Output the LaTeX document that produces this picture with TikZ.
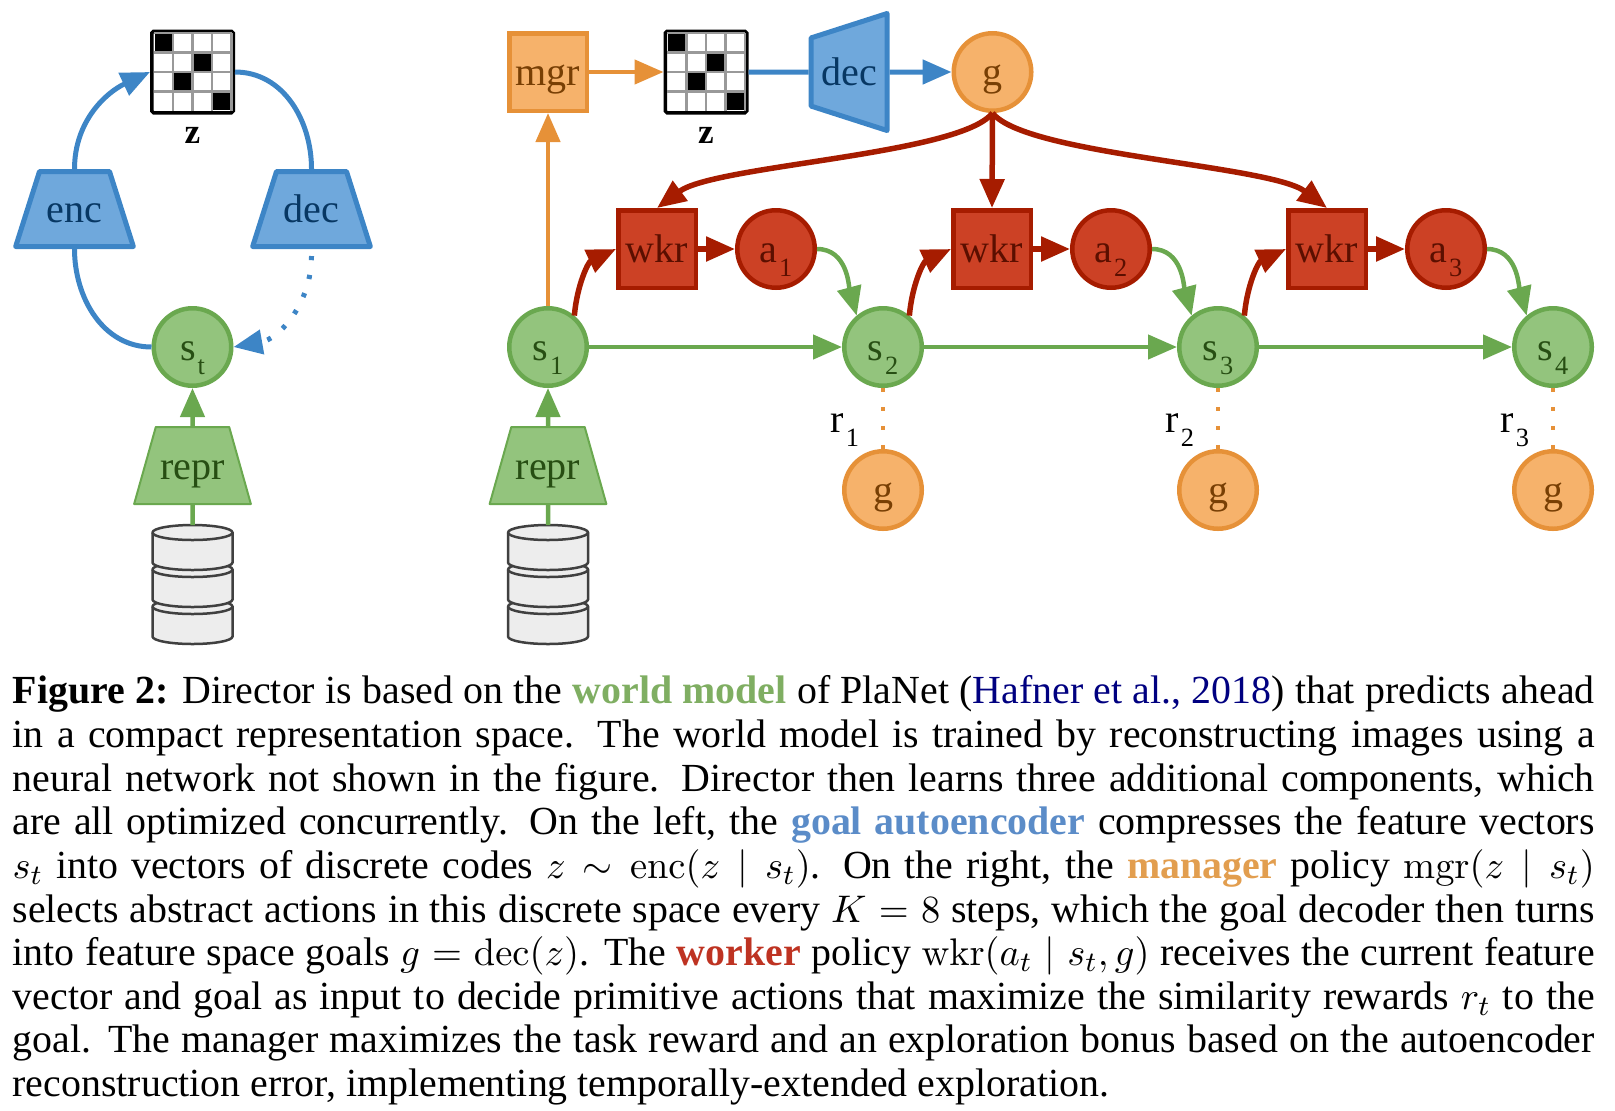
\documentclass[tikz,border=0pt]{standalone}
\usepackage[no-math]{fontspec}
\setmainfont{Liberation Serif}
\usepackage{amsmath}
\usetikzlibrary{arrows.meta,shapes.geometric}

\definecolor{bluefill}{HTML}{6FA8DC}
\definecolor{blueline}{HTML}{3D85C6}
\definecolor{bluetext}{HTML}{073763}
\definecolor{greenfill}{HTML}{93C47D}
\definecolor{greenline}{HTML}{6AA84F}
\definecolor{greentext}{HTML}{274E13}
\definecolor{orangefill}{HTML}{F6B26B}
\definecolor{orangeline}{HTML}{E69138}
\definecolor{orangetext}{HTML}{783F04}
\definecolor{redfill}{HTML}{CC4125}
\definecolor{redline}{HTML}{A61C00}
\definecolor{redtext}{HTML}{5B0F00}
\definecolor{capgreen}{HTML}{7FAE62}
\definecolor{capblue}{HTML}{5B8CC8}
\definecolor{caporange}{HTML}{E29E4F}
\definecolor{capred}{HTML}{BE3322}
\definecolor{citeblue}{HTML}{000080}

\newcommand{\sublbl}[2]{#1\kern0.5pt\smash{\raisebox{-4pt}{\fontsize{7.5}{8}\selectfont #2}}}

\begin{document}
\begin{tikzpicture}[
    every node/.style={inner sep=0pt, font=\fontsize{11.4}{13}\selectfont},
    lbl/.style={text height=1.7ex, text depth=0pt},
    state/.style={lbl, circle, draw=greenline, fill=greenfill, text=greentext, line width=0.045cm, minimum size=0.775cm},
    goal/.style={lbl, circle, draw=orangeline, fill=orangefill, text=orangetext, line width=0.045cm, minimum size=0.775cm},
    act/.style={lbl, circle, draw=redline, fill=redfill, text=redtext, line width=0.045cm, minimum size=0.775cm},
    wkr/.style={lbl, rectangle, draw=redline, fill=redfill, text=redtext, line width=0.045cm, minimum size=0.775cm},
    mgr/.style={lbl, rectangle, draw=orangeline, fill=orangefill, text=orangetext, line width=0.045cm, minimum size=0.775cm},
    trap/.style={lbl, trapezium, trapezium stretches=true, trapezium left angle=49, trapezium right angle=49,
        text width=0.7cm, align=center, line join=round, minimum width=1.17cm, minimum height=0.75cm},
    ae/.style={trap, draw=blueline, fill=bluefill, text=bluetext, line width=0.05cm},
    repr/.style={trap, draw=greenline, fill=greenfill, text=greentext, line width=0.02cm, trapezium left angle=53, trapezium right angle=53, minimum height=0.77cm},
    codes/.style={rectangle, draw=black, fill=white, line width=0.035cm, rounded corners=0.5pt, minimum size=0.815cm},
    zlbl/.style={font=\fontsize{10}{12}\selectfont\bfseries},
    tip/.style={-{Triangle[length=2.9mm,width=2.4mm]}},
    blueln/.style={blueline, line width=0.05cm},
    greenln/.style={greenline, line width=0.045cm},
    orangeln/.style={orangeline, line width=0.045cm},
    redln/.style={redline, line width=0.055cm},
    dots/.style={dash pattern=on 1.2pt off 4.2pt},
]
\useasboundingbox (0,0) rectangle (16.15,11.10);

% left part
\node[codes] (zl) at (1.925,10.38) {};
\node[zlbl] (zltxt) at (1.925,9.75) {z};
\node[ae] (enc) at (0.745,9.01) {enc};
\node[ae] (dec) at (3.115,9.01) {dec};
\node[state] (st) at (1.925,7.63) {\sublbl{s}{t}};
\node[repr] (repl) at (1.925,6.445) {repr};
\coordinate (dbl) at (1.925,5.85);

% right part, top row
\node[mgr] (mg) at (5.48,10.38) {mgr};
\node[codes] (zr) at (7.06,10.38) {};
\node[zlbl] (zrtxt) at (7.06,9.75) {z};
\node[ae, shape border rotate=90, trapezium left angle=82, trapezium right angle=82, minimum width=1.17cm, minimum height=0.76cm] (decr) at (8.49,10.38) {dec};
\node[goal] (g) at (9.925,10.38) {g};
\node[repr] (repr) at (5.48,6.445) {repr};
\coordinate (dbr) at (5.48,5.85);

\foreach \i/\x in {1/5.48,2/8.83,3/12.18,4/15.53}
    \node[state] (s\i) at (\x,7.63) {\sublbl{s}{\i}};

\foreach \i/\x in {1/6.57,2/9.92,3/13.27}
    \node[wkr] (w\i) at (\x,8.61) {wkr};
\foreach \i/\x in {1/7.76,2/11.11,3/14.46}
    \node[act] (a\i) at (\x,8.61) {\sublbl{a}{\i}};

\foreach \i/\x in {1/8.83,2/12.18,3/15.53} {
    \node[goal] (g\i) at (\x,6.20) {g};
    \node[lbl] (r\i) at (\x-0.38,6.91) {\sublbl{r}{\i}};
}

% code grids
\foreach \z in {zl,zr} {
\begin{scope}[shift={(\z.center)}]
\draw[gray!80, line width=0.025cm, step=0.195] (-0.39,-0.39) grid (0.39,0.39);
\foreach \c/\r in {0/0,2/1,1/2,3/3}
    \fill (-0.378+0.195*\c,0.378-0.195*\r) rectangle +(0.171,-0.171);
\end{scope}
}

% data stacks
\foreach \d in {dbl,dbr} {
\foreach \k in {2,1,0} {
\begin{scope}[shift={(\d)}, yshift=-\k*0.37cm]
\draw[fill=gray!14, draw=black!75, line width=0.025cm] (-0.4,-0.075) -- (-0.4,-0.375) arc (180:360:0.4 and 0.075) -- (0.4,-0.075) arc (0:180:0.4 and 0.075) -- cycle;
\draw[draw=black!75, line width=0.025cm] (-0.4,-0.075) arc (180:360:0.4 and 0.075);
\end{scope}
}
}

% autoencoder
\draw[blueln, tip] (enc.north) to[out=90, in=205] (zl.west);
\draw[blueln] (zl.east) to[out=0, in=90] (dec.north);
\draw[blueln] (enc.south) to[out=-90, in=180] (st.west);
\draw[blueln, dots, tip] ([yshift=-0.07cm]dec.south) to[out=-90, in=10] (st.east);
\draw[greenln, tip] (repl.north) -- (st.south);
\draw[greenln] (dbl) -- (repl.south);

% top row
\draw[orangeln, tip] (s1.north) -- (mg.south);
\draw[orangeln, tip] (mg.east) -- (zr.west);
\draw[blueln] (zr.east) -- (decr.west);
\draw[blueln, tip] (decr.east) -- (g.west);
\draw[greenln, tip] (repr.north) -- (s1.south);
\draw[greenln] (dbr) -- (repr.south);

% goal to workers
\draw[redln, tip] (g.south) .. controls (9.6,9.55) and (7.15,9.45) .. (w1.north);
\draw[redln, tip] (g.south) -- (w2.north);
\draw[redln, tip] (g.south) .. controls (10.25,9.55) and (12.7,9.45) .. (w3.north);

\foreach \i in {1,2,3} {
    \pgfmathtruncatemacro{\j}{\i+1}
    \draw[greenln, tip] (s\i.east) -- (s\j.west);
    \draw[redln, tip] (s\i.50) to[out=85, in=205] (w\i.west);
    \draw[redln, tip] (w\i.east) -- (a\i.west);
    \draw[greenln, tip] (a\i.east) to[out=0, in=105] (s\j.130);
    \draw[orangeln, dots] (s\j.south) -- (g\i.north);
}

% caption
\node[anchor=north west, text width=15.82cm, align=justify, font=\fontsize{11.34}{12.42}\selectfont] (caption) at (0.12,4.35) {%
\textbf{Figure 2:} Director is based on the \textcolor{capgreen}{\textbf{world model}} of PlaNet (\textcolor{citeblue}{Hafner et al., 2018}) that predicts ahead\linebreak
in a compact representation space. The world model is trained by reconstructing images using a\linebreak
neural network not shown in the figure. Director then learns three additional components, which\linebreak
are all optimized concurrently. On the left, the \textcolor{capblue}{\textbf{goal autoencoder}} compresses the feature vectors\linebreak
$s_t$ into vectors of discrete codes $z\sim\mathrm{enc}(z\mid s_t)$. On the right, the \textcolor{caporange}{\textbf{manager}} policy $\mathrm{mgr}(z\mid s_t)$\linebreak
selects abstract actions in this discrete space every $K=8$ steps, which the goal decoder then turns\linebreak
into feature space goals $g=\mathrm{dec}(z)$. The \textcolor{capred}{\textbf{worker}} policy $\mathrm{wkr}(a_t\mid s_t,g)$ receives the current feature\linebreak
vector and goal as input to decide primitive actions that maximize the similarity rewards $r_t$ to the\linebreak
goal. The manager maximizes the task reward and an exploration bonus based on the autoencoder\linebreak
reconstruction error, implementing temporally-extended exploration.};
\end{tikzpicture}
\end{document}
